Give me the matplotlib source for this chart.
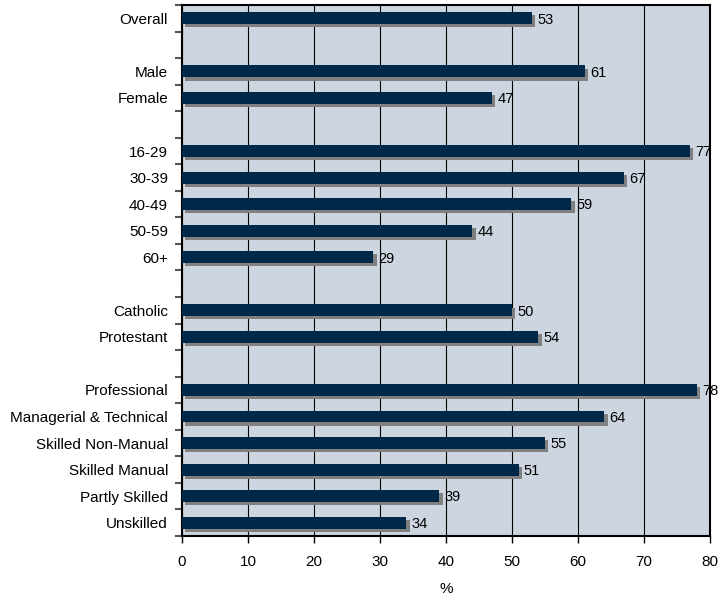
import numpy as np
import matplotlib.pyplot as plt

plt.rcParams['font.family'] = ['Liberation Sans', 'DejaVu Sans']

# rows top to bottom; None marks a blank separator row
categories = ['Overall', None, 'Male', 'Female', None,
              '16-29', '30-39', '40-49', '50-59', '60+', None,
              'Catholic', 'Protestant', None,
              'Professional', 'Managerial & Technical', 'Skilled Non-Manual',
              'Skilled Manual', 'Partly Skilled', 'Unskilled']
values = [53, None, 61, 47, None,
          77, 67, 59, 44, 29, None,
          50, 54, None,
          78, 64, 55, 51, 39, 34]
x_ticks = [0, 10, 20, 30, 40, 50, 60, 70, 80]

bar_color = '#002849'
shadow_color = '#808080'
bg_color = '#CDD5E0'

fig = plt.figure(figsize=(7.21, 5.95), dpi=100)
ax = fig.add_axes([0.2524, 0.0992, 0.7323, 0.8924])
ax.set_facecolor(bg_color)

rows = [(i, c, v) for i, (c, v) in enumerate(zip(categories, values)) if c is not None]
ypos = np.array([r[0] for r in rows])
vals = np.array([r[2] for r in rows])
labels = [r[1] for r in rows]

h = 0.45
# shadow first, shifted right and down
ax.barh(ypos + 0.12, vals, left=0.5, height=h, color=shadow_color, zorder=2)
ax.barh(ypos, vals, height=h, color=bar_color, zorder=3)

for y, v in zip(ypos, vals):
    ax.text(v + 0.8, y + 0.05, str(v), va='center', ha='left', fontsize=10.5, zorder=4)

ax.set_xlim(0, 80)
ax.set_ylim(len(categories) - 0.5, -0.5)
ax.set_xticks(x_ticks)
ax.tick_params(axis='x', length=5, width=1, labelsize=11, pad=9)
ax.xaxis.grid(True, color='black', linewidth=0.8, zorder=1)
ax.set_axisbelow(True)

# boundary ticks on y, labels at row centres
ax.set_yticks(np.arange(-0.5, len(categories), 1.0))
ax.set_yticklabels([])
ax.tick_params(axis='y', which='major', length=5, width=1.5, color='#555555')
ax.set_yticks(ypos, minor=True)
ax.set_yticklabels(labels, minor=True, fontsize=11)
ax.tick_params(axis='y', which='minor', length=0, pad=10)

for s in ax.spines.values():
    s.set_linewidth(1.5)
    s.set_color('black')

ax.set_xlabel('%', fontsize=11, labelpad=9)

fig.savefig('out.png', dpi=100)
